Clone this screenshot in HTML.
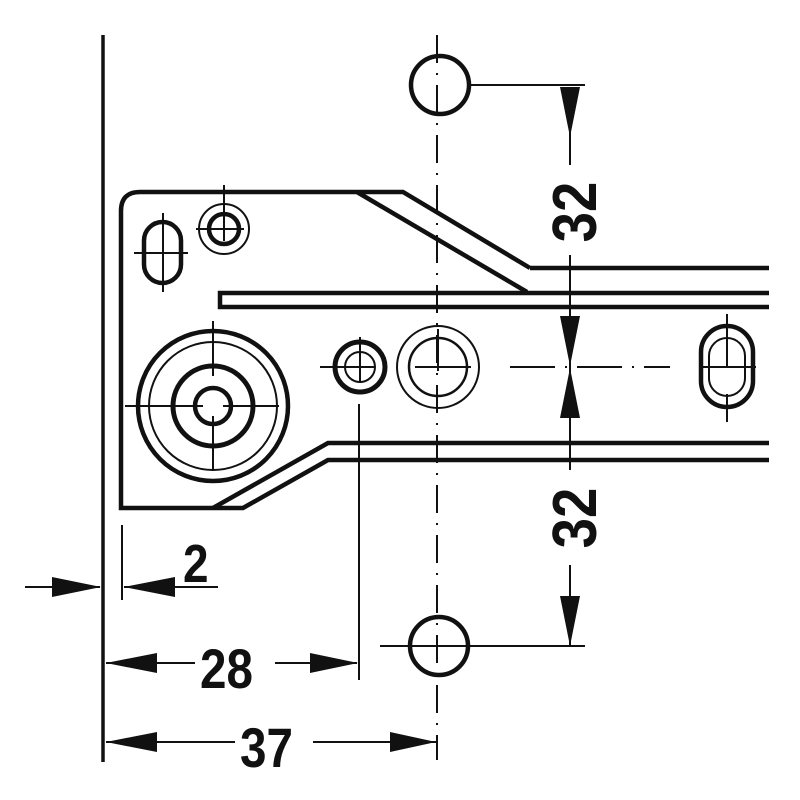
<!DOCTYPE html>
<html><head><style>
html,body{margin:0;padding:0;background:#fff;}
svg{display:block;}
text{font-family:"Liberation Sans",Arial,sans-serif;font-weight:bold;fill:#111;}
</style></head><body>
<svg width="800" height="800" viewBox="0 0 800 800" xmlns="http://www.w3.org/2000/svg">
<g fill="none" stroke="#111" stroke-linecap="butt">
<line x1="103" y1="35" x2="103" y2="762" stroke-width="3.5"/>
<path d="M530,268 L769,268 M530,268 L403,192 L140,192 Q121,192 121,211 L121,508 L243,508 L328,460 L769,460" stroke-width="4.5"/>
<path d="M357,192 L527,292 M213,508 L328,443 L769,443" stroke-width="4.5"/>
<path d="M769,293 L220,293 L220,307 L769,307" stroke-width="4.5"/>
<g transform="translate(213,406)">
<circle r="75" stroke-width="4.5"/>
<circle r="64" stroke-width="2"/>
<circle r="40" stroke-width="5"/>
<circle r="18" stroke-width="4.5"/>
<line x1="-88" y1="0" x2="-10" y2="0" stroke-width="2"/>
<line x1="10" y1="0" x2="66" y2="0" stroke-width="2"/>
<line x1="0" y1="-85" x2="0" y2="-30" stroke-width="2"/>
<line x1="0" y1="10" x2="0" y2="65" stroke-width="2"/>
</g>
<g transform="translate(224,229)">
<circle r="25" stroke-width="2"/>
<circle r="15" stroke-width="4.5"/>
<line x1="-28" y1="0" x2="20" y2="0" stroke-width="2"/>
<line x1="0" y1="-44" x2="0" y2="12" stroke-width="2"/>
</g>
<rect x="144" y="222" width="37" height="61" rx="18.5" stroke-width="4.5"/>
<line x1="134" y1="253" x2="188" y2="253" stroke-width="2"/>
<line x1="163" y1="213" x2="163" y2="292" stroke-width="2"/>
<g transform="translate(360,367)">
<circle r="25" stroke-width="5"/>
<circle r="15" stroke-width="2"/>
<line x1="-40" y1="0" x2="15" y2="0" stroke-width="2"/>
<line x1="0" y1="-30" x2="0" y2="16" stroke-width="2"/>
</g>
<line x1="359" y1="404" x2="359" y2="680" stroke-width="2"/>
<g transform="translate(438,367)">
<circle r="41" stroke-width="2"/>
<circle r="29" stroke-width="2.5"/>
<line x1="-23" y1="0" x2="33" y2="0" stroke-width="2"/>
<line x1="0" y1="-38" x2="0" y2="4" stroke-width="2"/>
</g>
<rect x="701" y="326" width="52" height="81" rx="26" stroke-width="4.5"/>
<rect x="709" y="338" width="36" height="58" rx="18" stroke-width="2"/>
<line x1="703" y1="367" x2="756" y2="367" stroke-width="2"/>
<line x1="727" y1="314" x2="727" y2="367" stroke-width="2"/>
<line x1="727" y1="394" x2="727" y2="422" stroke-width="2"/>
<line x1="437" y1="35" x2="437" y2="760" stroke-width="2" stroke-dasharray="28,10,2,10"/>
<line x1="510" y1="367" x2="670" y2="367" stroke-width="2" stroke-dasharray="45,10,2,10"/>
<circle cx="440" cy="85" r="29" stroke-width="4.5"/>
<circle cx="439" cy="646" r="29" stroke-width="4.5"/>
<line x1="470" y1="85" x2="585" y2="85" stroke-width="2"/>
<line x1="380" y1="646" x2="585" y2="646" stroke-width="2"/>
<line x1="570" y1="88" x2="570" y2="165" stroke-width="2"/>
<line x1="570" y1="255" x2="570" y2="470" stroke-width="2"/>
<line x1="570" y1="565" x2="570" y2="645" stroke-width="2"/>
<line x1="25" y1="587" x2="100" y2="587" stroke-width="2"/>
<line x1="124" y1="587" x2="218" y2="587" stroke-width="2"/>
<line x1="122" y1="525" x2="122" y2="600" stroke-width="2"/>
<line x1="106" y1="663" x2="195" y2="663" stroke-width="2"/>
<line x1="275" y1="663" x2="357" y2="663" stroke-width="2"/>
<line x1="106" y1="742" x2="235" y2="742" stroke-width="2"/>
<line x1="313" y1="742" x2="436" y2="742" stroke-width="2"/>
</g>
<g fill="#111">
<polygon points="560,87 580,87 570,137"/>
<polygon points="560,316 580,316 570,366"/>
<polygon points="560,418 580,418 570,368"/>
<polygon points="560,596 580,596 570,646"/>
<polygon points="52,577 52,597 101,587"/>
<polygon points="175,577 175,597 124,587"/>
<polygon points="157,653 157,673 106,663"/>
<polygon points="310,653 310,673 358,663"/>
<polygon points="157,732 157,752 106,742"/>
<polygon points="390,732 390,752 436,742"/>
</g>
<text x="183" y="582" font-size="54" transform="translate(183,0) scale(0.85,1) translate(-183,0)">2</text>
<text x="200" y="688" font-size="56" transform="translate(200,0) scale(0.85,1) translate(-200,0)">28</text>
<text x="240" y="767" font-size="56" transform="translate(240,0) scale(0.85,1) translate(-240,0)">37</text>
<text font-size="62" transform="translate(596,212) rotate(-90) scale(0.88,1)" text-anchor="middle">32</text>
<text font-size="62" transform="translate(596,518) rotate(-90) scale(0.88,1)" text-anchor="middle">32</text>
</svg>
</body></html>
